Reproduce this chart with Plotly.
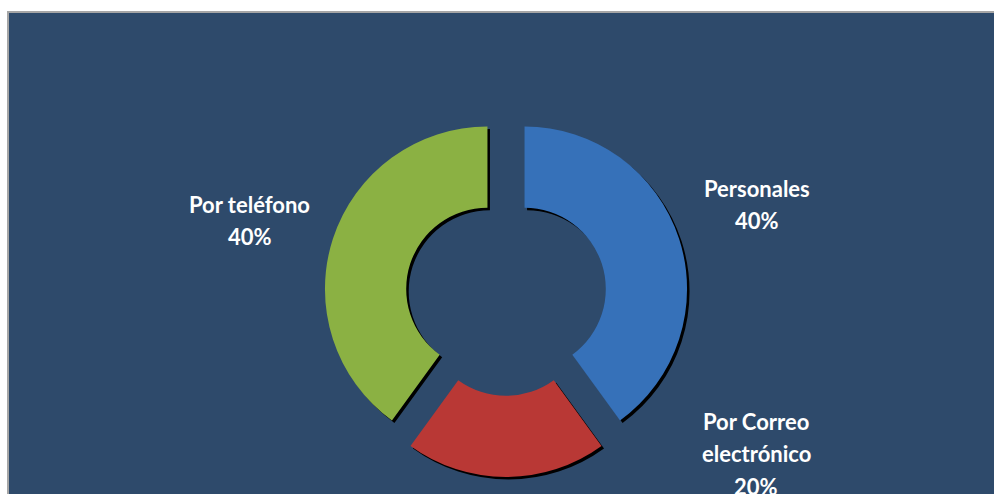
import plotly.graph_objects as go

# Data
categories = ["Personales", "Por Correo electrónico", "Por teléfono"]
label_lines = [["Personales"], ["Por Correo", "electrónico"], ["Por teléfono"]]
values = [40, 20, 40]
colors = ["#3671B9", "#B93835", "#8BB143"]

W, H = 994, 494
cx, cy = 506, 295
half = 182  # half domain size in px
pull = 0.12
hole = 0.5

def dom(dx=0, dy=0):
    return dict(
        x=[(cx - half + dx) / W, (cx + half + dx) / W],
        y=[1 - (cy + half + dy) / H, 1 - (cy - half + dy) / H],
    )

fig = go.Figure()
# shadow
fig.add_trace(go.Pie(
    labels=categories, values=values, sort=False, direction="clockwise",
    rotation=0, hole=hole, pull=[pull] * len(values),
    marker=dict(colors=["#000000"] * len(values), line=dict(width=0)),
    textinfo="none", hoverinfo="skip", showlegend=False, domain=dom(2.5, 2.5),
))
fig.add_trace(go.Pie(
    labels=categories, values=values, sort=False, direction="clockwise",
    rotation=0, hole=hole, pull=[pull] * len(values),
    marker=dict(colors=colors, line=dict(width=0)),
    textinfo="none", showlegend=False, domain=dom(0, 0),
))

# label positions (px): center x, first line center y
label_pos = [(757, 188), (756, 421), (250, 204)]
line_gap = 32.5
total = sum(values)
for lines, v, (px, py) in zip(label_lines, values, label_pos):
    all_lines = lines + [f"{round(100 * v / total)}%"]
    for i, t in enumerate(all_lines):
        yy = py + i * line_gap
        fig.add_annotation(
            x=px / W, y=1 - yy / H, xref="paper", yref="paper",
            text=t, showarrow=False, xanchor="center", yanchor="middle",
            font=dict(family="Lato", size=22, color="#FFFFFF", weight="bold"),
        )

fig.add_shape(
    type="rect", xref="paper", yref="paper",
    x0=8 / W, x1=1.01, y0=-0.01, y1=1 - 12 / H,
    fillcolor="#2E4A6B", line=dict(color="#A6A6A6", width=2), layer="below",
)

fig.update_layout(
    width=W, height=H, margin=dict(l=0, r=0, t=0, b=0),
    paper_bgcolor="#FFFFFF", plot_bgcolor="#FFFFFF",
)
fig.write_html(
    "out.html",
    config={"displayModeBar": False},
    post_script="document.body.style.margin='0';document.body.style.overflow='hidden';",
)
